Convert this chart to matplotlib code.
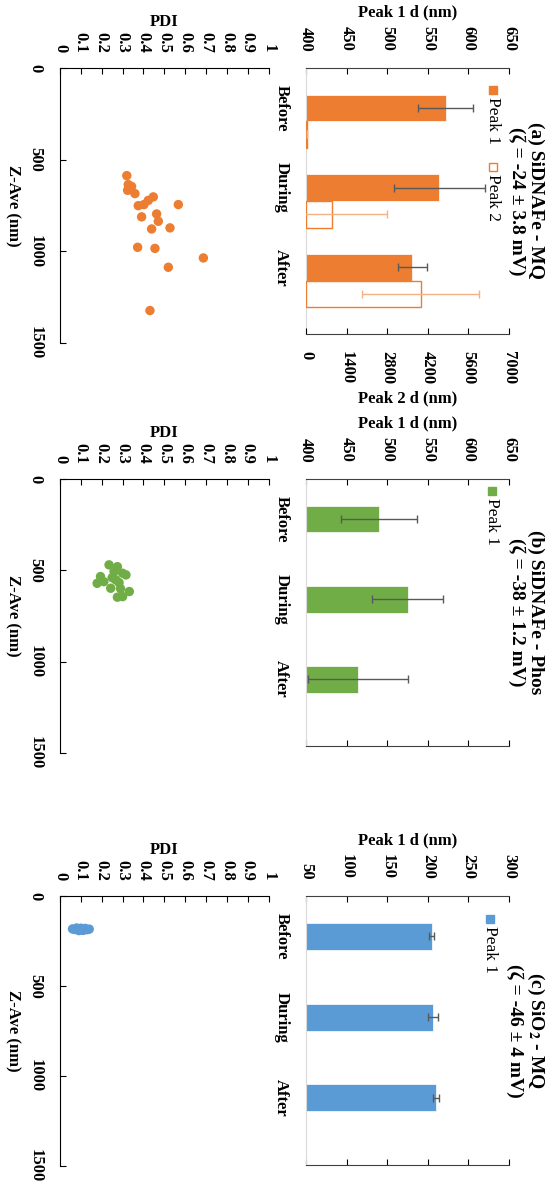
import matplotlib
matplotlib.use('Agg')
import matplotlib.pyplot as plt
from matplotlib.patches import Rectangle

# Data ----
categories = ['Before', 'During', 'After']

# (a) SiDNAFe - MQ
peak1_a = [572, 564, 531]
peak1_a_err = [34, 56, 18]
peak2_a = [30, 886, 3950]
peak2_a_err = [0, 1900, 2010]
pdi_a = [0.32, 0.327, 0.343, 0.324, 0.359, 0.447, 0.423, 0.402, 0.375, 0.567,
         0.463, 0.391, 0.471, 0.527, 0.439, 0.372, 0.455, 0.687, 0.519, 0.431]
zave_a = [587, 636, 646, 667, 685, 703, 722, 745, 751, 745,
          796, 812, 836, 872, 878, 978, 984, 1036, 1087, 1323]

# (b) SiDNAFe - Phos
peak1_b = [490, 525, 464]
peak1_b_err = [47, 44, 62]
pdi_b = [0.235, 0.275, 0.259, 0.30, 0.316, 0.194, 0.178, 0.21, 0.243, 0.283,
         0.332, 0.30, 0.275, 0.267, 0.25, 0.29]
zave_b = [470, 480, 507, 516, 525, 534, 571, 562, 598, 567,
          616, 644, 647, 552, 540, 600]

# (c) SiO2 - MQ
peak1_c = [205, 206.5, 209.5]
peak1_c_err = [3, 6, 3.7]
pdi_c = [0.06, 0.07, 0.08, 0.09, 0.10, 0.11, 0.12, 0.13, 0.14, 0.08, 0.10, 0.12, 0.11, 0.09]
zave_c = [183, 186, 181, 188, 184, 190, 182, 187, 184, 178, 179, 180, 191, 192]

titles = ['(a) SiDNAFe - MQ\n(ζ = -24 ± 3.8 mV)',
          '(b) SiDNAFe - Phos\n(ζ = -38 ± 1.2 mV)',
          '(c) SiO$_\\mathbf{2}$ - MQ\n(ζ = -46 ± 4 mV)']

# Style ----
plt.rcParams['font.family'] = ['Liberation Serif', 'DejaVu Serif']
plt.rcParams['font.weight'] = 'bold'
plt.rcParams['axes.labelweight'] = 'bold'
plt.rcParams['font.size'] = 12
plt.rcParams['mathtext.fontset'] = 'stix'

W, H = 550, 1186
fig = plt.figure(figsize=(W / 100, H / 100), dpi=100)


def box(x0, y0, x1, y1):
    return [x0 / W, 1 - y1 / H, (x1 - x0) / W, (y1 - y0) / H]


def fx(x):
    return x / W


def fy(y):
    return 1 - y / H


pos1 = [0.45, 1.35, 2.25]
pos2 = [p + 0.3 for p in pos1]


def bar_panel(rect, vals, errs, color, xlim, xticks, vals2=None, errs2=None):
    ax = fig.add_axes(rect)
    ax2 = None
    if vals2 is not None:
        ax2 = ax.twiny()
    ax.barh(pos1, vals, height=0.3, left=0, color=color, edgecolor='white',
            linewidth=0.5, xerr=errs, ecolor='#595959', capsize=3,
            error_kw={'elinewidth': 1})
    ax.set_xlim(*xlim)
    ax.set_ylim(3, 0)
    ax.set_xticks(xticks)
    ax.set_xticklabels([str(t) for t in xticks], rotation=-90)
    ax.set_yticks(pos1)
    ax.set_yticklabels(categories, rotation=-90, va='center')
    ax.tick_params(axis='y', length=0, pad=12)
    ax.xaxis.set_ticks_position('both')
    ax.tick_params(axis='x', direction='in', length=4, width=0.8, pad=12,
                   top=True, bottom=(ax2 is None), labeltop=True, labelbottom=False)
    ax.xaxis.set_label_position('top')
    ax.set_xlabel('Peak 1 d (nm)', labelpad=7)
    ax.spines['right'].set_visible(False)
    ax.spines['left'].set_color('#d9d9d9')
    ax.spines['top'].set_color('#404040')
    ax.spines['bottom'].set_color('#404040')
    if ax2 is not None:
        ax.spines['bottom'].set_visible(False)
        ax2.barh(pos2, vals2, height=0.3, color='white', edgecolor=color,
                 linewidth=1, xerr=errs2, ecolor='#f4b183', capsize=3,
                 error_kw={'elinewidth': 1})
        ax2.set_xlim(0, 7000)
        ax2.set_ylim(3, 0)
        t2 = [0, 1400, 2800, 4200, 5600, 7000]
        ax2.set_xticks(t2)
        ax2.set_xticklabels([str(t) for t in t2], rotation=-90)
        ax2.xaxis.set_ticks_position('bottom')
        ax2.xaxis.set_label_position('bottom')
        ax2.tick_params(axis='x', direction='in', length=4, width=0.8, pad=12)
        ax2.set_xlabel('Peak 2 d (nm)', labelpad=5)
        for s in ['top', 'left', 'right']:
            ax2.spines[s].set_visible(False)
        ax2.spines['bottom'].set_color('#404040')
    return ax


def scatter_panel(rect, pdi, zave, color, ymid):
    ax = fig.add_axes(rect)
    ax.scatter(pdi, zave, s=46, color=color, edgecolors='none')
    ax.set_xlim(0, 1)
    ax.set_ylim(1500, 0)
    xt = [i / 10 for i in range(11)]
    ax.set_xticks(xt)
    ax.set_xticklabels(['0'] + ['%.1f' % t for t in xt[1:-1]] + ['1'], rotation=-90)
    ax.set_yticks([0, 500, 1000, 1500])
    ax.set_yticklabels(['0', '500', '1000', '1500'], rotation=-90, va='center')
    ax.xaxis.tick_top()
    ax.xaxis.set_label_position('top')
    ax.set_xlabel('PDI', labelpad=4)
    ax.tick_params(direction='in', length=4, width=0.8, pad=12)
    ax.tick_params(axis='x', pad=11)
    ax.spines['right'].set_visible(False)
    ax.spines['bottom'].set_visible(False)
    fig.text(fx(12.5), fy(ymid), 'Z-Ave (nm)', rotation=-90, ha='center',
             va='center', fontweight='bold')
    return ax


def legend(x, y, color, label, filled=True):
    fig.patches.append(Rectangle((fx(x - 4), fy(y + 8)), 8 / W, 8 / H,
                                 transform=fig.transFigure,
                                 facecolor=color if filled else 'white',
                                 edgecolor=color, linewidth=1))
    fig.text(fx(x), fy(y + 11), label, rotation=-90, ha='center', va='top',
             fontweight='normal', fontsize=12.5)


panels = [
    (68, 334, 343, '#ed7d31', peak1_a, peak1_a_err, (400, 650), [400, 450, 500, 550, 600, 650], pdi_a, zave_a),
    (479, 746, 753, '#70ad47', peak1_b, peak1_b_err, (400, 650), [400, 450, 500, 550, 600, 650], pdi_b, zave_b),
    (896, 1165, 1166, '#5b9bd5', peak1_c, peak1_c_err, (50, 300), [50, 100, 150, 200, 250, 300], pdi_c, zave_c),
]

for i, (top, bot, sbot, col, v, e, xl, xt, pdi, zv) in enumerate(panels):
    if i == 0:
        bar_panel(box(306, top, 509, bot), v, e, col, xl, xt, peak2_a, peak2_a_err)
    else:
        bar_panel(box(306, top, 509, bot), v, e, col, xl, xt)
    scatter_panel(box(60, top, 268.7, sbot), pdi, zv, col, (top + sbot) / 2)
    fig.text(fx(526), fy((top + bot) / 2), titles[i], rotation=-90, ha='center',
             va='center', fontsize=14, linespacing=1.1, multialignment='center')

legend(493, 86, '#ed7d31', 'Peak 1')
legend(493, 163, '#ed7d31', 'Peak 2', filled=False)
legend(492, 487, '#70ad47', 'Peak 1')
legend(490, 915, '#5b9bd5', 'Peak 1')

fig.savefig('out.png', dpi=100)
